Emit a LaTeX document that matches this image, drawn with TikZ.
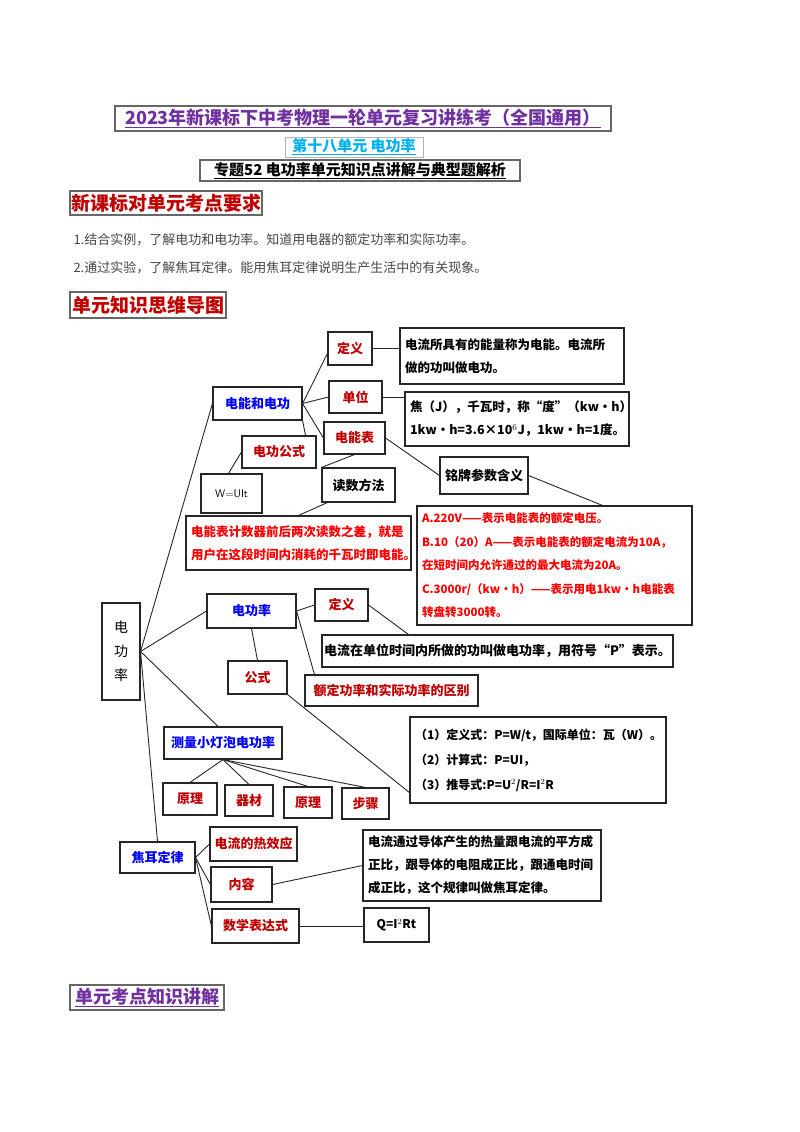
\documentclass[tikz,border=0pt]{standalone}
\usepackage{fontspec}
\setmainfont{Noto Sans CJK SC}
\usetikzlibrary{calc}
\definecolor{ttpurple}{RGB}{112,48,160}
\definecolor{ttcyan}{RGB}{0,176,240}
\definecolor{ttred}{RGB}{192,0,0}
\definecolor{brred}{RGB}{255,0,0}
\definecolor{ttblue}{RGB}{0,0,255}
\definecolor{ttgray}{RGB}{70,70,70}
\begin{document}
\begin{tikzpicture}[x=1pt,y=-1pt,
  hd/.style={draw=gray!80!black,line width=1.6pt,inner sep=1pt,font=\bfseries},
  bx/.style={draw=black!85,line width=1.1pt,inner sep=2pt,font=\fontsize{13}{15}\selectfont\bfseries},
  tb/.style={bx,align=left,inner xsep=5pt,font=\fontsize{12.5}{23}\selectfont\bfseries},
  ln/.style={draw=black!85,line width=0.9pt}]
\useasboundingbox (0,0) rectangle (800,1132);
% headings
\node[hd,text=ttpurple,font=\fontsize{18}{20}\selectfont\bfseries,minimum width=496,minimum height=25] (t1) at (363,118.5) {\underline{2023年新课标下中考物理一轮单元复习讲练考（全国通用）}};
\node[hd,draw=gray!60,line width=1pt,text=ttcyan,font=\fontsize{15}{16}\selectfont\bfseries,minimum width=138,minimum height=20] (t2) at (354,147) {\underline{第十八单元\ 电功率}};
\node[hd,line width=1.2pt,font=\fontsize{15}{16}\selectfont\bfseries,minimum width=320,minimum height=21] (t3) at (360,170.5) {\underline{专题52\ 电功率单元知识点讲解与典型题解析}};
\node[hd,text=ttred,font=\fontsize{19}{20}\selectfont\bfseries,minimum width=192,minimum height=24] (h1) at (166,203) {新课标对单元考点要求};
\node[anchor=west,text=ttgray,font=\fontsize{13}{15}\selectfont] (p1) at (70,240) {1.结合实例，了解电功和电功率。知道用电器的额定功率和实际功率。};
\node[anchor=west,text=ttgray,font=\fontsize{13}{15}\selectfont] (p2) at (70,268) {2.通过实验，了解焦耳定律。能用焦耳定律说明生产生活中的有关现象。};
\node[hd,text=ttred,font=\fontsize{19}{20}\selectfont\bfseries,minimum width=156,minimum height=26] (h2) at (148,305) {单元知识思维导图};
\node[hd,text=ttpurple,font=\fontsize{18}{20}\selectfont\bfseries,minimum width=154,minimum height=25] (h3) at (147,997.5) {\underline{单元考点知识讲解}};
% mind map nodes
\node[bx,text=ttred,minimum width=44,minimum height=33] (dy1) at (350,348.5) {定义};
\node[tb,text width=214,minimum height=56] (defb) at (512,356) {电流所具有的能量称为电能。电流所\\做的功叫做电功。};
\node[bx,text=ttred,minimum width=53,minimum height=32] (dw) at (355.5,397) {单位};
\node[tb,text width=214,minimum height=54] (unitb) at (517,419) {焦（J），千瓦时，称“度”（kw·h）\\1kw·h=3.6×10$^6$J，1kw·h=1度。};
\node[bx,text=ttblue,minimum width=89,minimum height=33] (dnh) at (257.5,403.5) {电能和电功};
\node[bx,text=ttred,minimum width=61,minimum height=32] (dnb) at (354.5,438) {电能表};
\node[bx,text=ttred,minimum width=74,minimum height=32] (dggs) at (279,452) {电功公式};
\node[bx,minimum width=61,minimum height=39,font=\fontsize{11}{12}\selectfont\sffamily] (wuit) at (231.5,493.5) {W=UIt};
\node[bx,minimum width=73,minimum height=34] (dsff) at (358.5,485) {读数方法};
\node[bx,minimum width=88,minimum height=37] (mp) at (484,475.5) {铭牌参数含义};
\node[tb,text=brred,text width=215,minimum height=54] (rd) at (298.5,543) {电能表计数器前后两次读数之差，就是\\用户在这段时间内消耗的千瓦时即电能。};
\node[tb,text=brred,text width=265,minimum height=119,font=\fontsize{11.5}{23.5}\selectfont\bfseries] (abc) at (554.5,565.5) {A.220V——表示电能表的额定电压。\\B.10（20）A——表示电能表的额定电流为10A，\\在短时间内允许通过的最大电流为20A。\\C.3000r/（kw·h）——表示用电1kw·h电能表\\转盘转3000转。};
\node[bx,minimum width=38,minimum height=97,align=center,font=\fontsize{14}{24}\selectfont] (root) at (121,651.5) {电\\功\\率};
\node[bx,text=ttblue,minimum width=89,minimum height=34] (dgl) at (251.5,611) {电功率};
\node[bx,text=ttred,minimum width=53,minimum height=32] (dy2) at (341.5,605) {定义};
\node[bx,minimum width=349,minimum height=32] (pdef) at (497.5,651) {电流在单位时间内所做的功叫做电功率，用符号“P”表示。};
\node[bx,text=ttred,minimum width=59,minimum height=33] (gs) at (257.5,677.5) {公式};
\node[bx,text=ttred,minimum width=173,minimum height=31] (qb) at (391.5,690.5) {额定功率和实际功率的区别};
\node[tb,text width=246,minimum height=86,font=\fontsize{12}{25}\selectfont\bfseries] (fm) at (538,760) {（1）定义式：P=W/t，国际单位：瓦（W）。\\（2）计算式：P=UI，\\（3）推导式:P=U$^2$/R=I$^2$R};
\node[bx,text=ttblue,minimum width=118,minimum height=32] (cl) at (223,743) {测量小灯泡电功率};
\node[bx,text=ttred,minimum width=54,minimum height=32] (yl1) at (190,799) {原理};
\node[bx,text=ttred,minimum width=48,minimum height=31] (qc) at (249,800.5) {器材};
\node[bx,text=ttred,minimum width=48,minimum height=31] (yl2) at (308,802.5) {原理};
\node[bx,text=ttred,minimum width=47,minimum height=31] (bz) at (365.5,803.5) {步骤};
\node[bx,text=ttblue,minimum width=75,minimum height=31] (jr) at (157.5,857.5) {焦耳定律};
\node[bx,text=ttred,minimum width=87,minimum height=34] (rx) at (253.5,844) {电流的热效应};
\node[bx,text=ttred,minimum width=61,minimum height=35] (nr) at (241.5,884.5) {内容};
\node[bx,text=ttred,minimum width=87,minimum height=34] (sx) at (255.5,926) {数学表达式};
\node[tb,text width=228,minimum height=71] (jb) at (482,865.5) {电流通过导体产生的热量跟电流的平方成\\正比，跟导体的电阻成正比，跟通电时间\\成正比，这个规律叫做焦耳定律。};
\node[bx,minimum width=65,minimum height=34,font=\fontsize{12}{13}\selectfont\bfseries] (qf) at (396.5,925) {Q=I$^2$Rt};
% connectors
\draw[ln] (root.east) -- (dnh.west);
\draw[ln] (root.east) -- (dgl.west);
\draw[ln] (root.east) -- ($(cl.north)+(-5,0)$);
\draw[ln] (root.east) -- (jr.north);
\draw[ln] (dnh.east) -- ($(dy1.west)+(0,5)$);
\draw[ln] (dnh.east) -- (dw.west);
\draw[ln] (dnh.east) -- (dnb.west);
\draw[ln] (dnh.south east) -- ($(dggs.north east)+(-11,0)$);
\draw[ln] (dggs.west) -- ($(wuit.north)+(-3,0)$);
\draw[ln] (dnb.south) -- (dsff.north west);
\draw[ln] (dnb.east) -- (mp.west);
\draw[ln] (mp.east) -- ($(abc.north)+(48,0)$);
\draw[ln] ($(dsff.south west)+(6,0)$) -- (rd.north);
\draw[ln] (dy1.east) -- (dy1.east -| defb.west);
\draw[ln] (dw.east) -- (dw.east -| unitb.west);
\draw[ln] (dgl.east) -- (dy2.west);
\draw[ln] (dy2.east) -- ($(pdef.north west)+(87,0)$);
\draw[ln] (dgl.east) -- ($(qb.north west)+(10,0)$);
\draw[ln] (dgl.south) -- (gs.north);
\draw[ln] (gs.south east) -- ($(fm.south west)+(0,-11)$);
\draw[ln] (cl.south) -- (yl1.north);
\draw[ln] (cl.south) -- (qc.north);
\draw[ln] (cl.south) -- (yl2.north);
\draw[ln] (cl.south) -- (bz.north);
\draw[ln] (jr.east) -- (rx.west);
\draw[ln] (jr.east) -- (nr.west);
\draw[ln] (jr.east) -- (sx.west);
\draw[ln] (nr.east) -- (jb.west);
\draw[ln] (sx.east) -- (sx.east -| qf.west);
\end{tikzpicture}
\end{document}
